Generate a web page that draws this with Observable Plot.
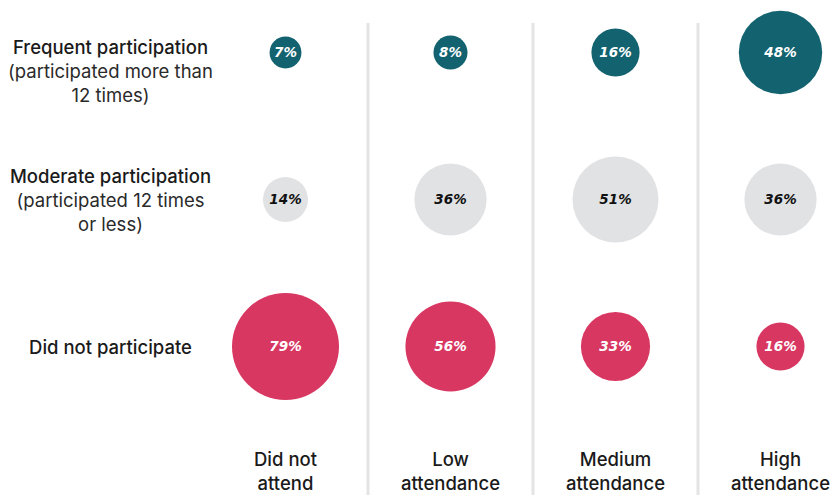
<!DOCTYPE html>
<html><head><meta charset="utf-8">
<script src="https://cdn.jsdelivr.net/npm/d3@7"></script>
<script src="https://cdn.jsdelivr.net/npm/@observablehq/plot@0.6"></script>
<style>
body{margin:0;background:#fff;}
#chart svg{display:block;}
</style></head><body><div id="chart"></div>
<script>
const columns = ["Did not attend","Low attendance","Medium attendance","High attendance"];
const columnLabels = ["Did not\nattend","Low\nattendance","Medium\nattendance","High\nattendance"];
const rowTitles = ["Frequent participation","Moderate participation","Did not participate"];
const rowNotes = ["(participated more than\n12 times)","(participated 12 times\nor less)",""];
const frequentParticipation = [7, 8, 16, 48];
const moderateParticipation = [14, 36, 51, 36];
const didNotParticipate = [79, 56, 33, 16];
const rowColors = ["#12626f", "#e1e2e4", "#d83762"];
const labelColors = ["#ffffff", "#111111", "#ffffff"];

const series = [frequentParticipation, moderateParticipation, didNotParticipate];
const cells = series.flatMap((vals, r) => vals.map((v, c) => ({r, c, v, col: columns[c], row: rowTitles[r]})));
const rowData = rowTitles.map((t, i) => ({i, title: t, note: rowNotes[i]}));
const colData = columnLabels.map((t, i) => ({i, label: t}));
const separators = columns.slice(1).map((_, i) => i + 0.5);

const font = "Inter, 'Noto Sans', sans-serif";
const fs = 18.5;
const lh = 24 / fs;
const titleText = d => d.note ? d.title + "\n\n" : d.title;
const noteText = d => d.note ? "\n" + d.note : "";
const labelOpts = (dy) => ({frameAnchor: "left", dx: 110, textAnchor: "middle", lineHeight: lh, fontSize: fs, dy});

const chart = Plot.plot({
  width: 836, height: 495,
  marginTop: 23, marginBottom: 0, marginLeft: 0, marginRight: 0,
  x: {domain: [0, 3], range: [285, 780], axis: null},
  y: {domain: [0, 2], range: [52, 346], axis: null},
  r: {type: "sqrt", domain: [0, 79], range: [0, 53.5]},
  color: {type: "identity"},
  style: {fontFamily: font, background: "#fff", overflow: "visible"},
  marks: [
    Plot.ruleX(separators, {stroke: "#e4e4e4", strokeWidth: 3}),
    Plot.dot(cells, {x: "c", y: "r", r: "v", fill: d => rowColors[d.r], stroke: null}),
    Plot.text(cells, {x: "c", y: "r", text: d => d.v + "%", fill: d => labelColors[d.r],
      fontSize: 13.5, fontWeight: "bold", fontStyle: "italic", fontFamily: "'DejaVu Sans', sans-serif", letterSpacing: "0.5px"}),
    Plot.text(rowData.filter(d => d.i === 0), {y: "i", text: titleText, ...labelOpts(18), fontWeight: 500, fill: "#1a1a1a"}),
    Plot.text(rowData.filter(d => d.i === 0), {y: "i", text: noteText, ...labelOpts(18), fontWeight: 400, fill: "#2a2a2a"}),
    Plot.text(rowData.filter(d => d.i > 0), {y: "i", text: titleText, ...labelOpts(0), fontWeight: 500, fill: "#1a1a1a"}),
    Plot.text(rowData.filter(d => d.i > 0), {y: "i", text: noteText, ...labelOpts(0), fontWeight: 400, fill: "#2a2a2a"}),
    Plot.text(colData, {x: "i", text: "label", frameAnchor: "bottom", lineAnchor: "bottom", dy: -6,
      lineHeight: lh, fontSize: fs, fontWeight: 500, fill: "#1a1a1a"})
  ]
});
document.getElementById("chart").appendChild(chart);
</script></body></html>
